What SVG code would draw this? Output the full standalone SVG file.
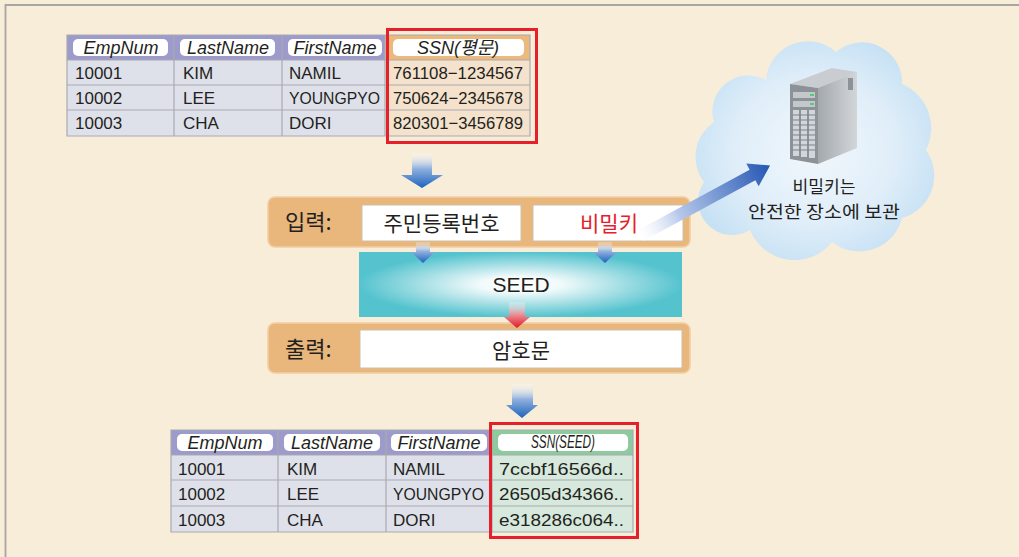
<svg xmlns="http://www.w3.org/2000/svg" width="1019" height="557" viewBox="0 0 1019 557">
  <defs>
    <style>
      .t { font-family: "Liberation Sans", Arial, sans-serif; font-size: 17px; fill: #231f20; }
      .h { font-family: "Liberation Sans", Arial, sans-serif; font-size: 18px; font-style: italic; fill: #231f20; text-anchor: middle; }
      .k { font-family: "Noto Sans CJK KR", "Noto Sans", sans-serif; fill: #231f20; }
      .grid { stroke: #a9a9b0; stroke-width: 1.2; fill: none; }
      .pill { fill: #ffffff; }
      .hdr { fill: #9d9bcb; }
      .row { fill: #dfe1ea; }
      .bar { fill: #e9b67c; stroke: #f2cea3; stroke-width: 1.5; }
      .box { fill: #ffffff; stroke: #cdbfa8; stroke-width: 1; }
      .hl { fill: none; stroke: #e5202a; stroke-width: 3; }
    </style>
    <linearGradient id="blueDown" x1="0" y1="0" x2="0" y2="1">
      <stop offset="0" stop-color="#ffffff" stop-opacity="0.2"/>
      <stop offset="0.45" stop-color="#8fb0de"/>
      <stop offset="1" stop-color="#1c63bd"/>
    </linearGradient>
    <linearGradient id="redDown" x1="0" y1="0" x2="0" y2="1">
      <stop offset="0" stop-color="#ffffff" stop-opacity="0.2"/>
      <stop offset="0.5" stop-color="#ec8a90"/>
      <stop offset="1" stop-color="#e0182a"/>
    </linearGradient>
    <linearGradient id="blueDiag" x1="0" y1="0" x2="1" y2="0">
      <stop offset="0" stop-color="#ffffff" stop-opacity="0.3"/>
      <stop offset="0.3" stop-color="#b6c8ea"/>
      <stop offset="1" stop-color="#2456b3"/>
    </linearGradient>
    <radialGradient id="seedGlow" cx="0.5" cy="0.5" r="0.5">
      <stop offset="0" stop-color="#ffffff"/>
      <stop offset="0.25" stop-color="#f2fafb"/>
      <stop offset="1" stop-color="#55c3ce"/>
    </radialGradient>
    <radialGradient id="cloudFill" cx="0.5" cy="0.5" r="0.55">
      <stop offset="0" stop-color="#f1f7fc"/>
      <stop offset="0.6" stop-color="#e0eef9"/>
      <stop offset="1" stop-color="#c6e1f4"/>
    </radialGradient>
    <linearGradient id="towerSide" x1="0" y1="0" x2="1" y2="0">
      <stop offset="0" stop-color="#a4a9ae"/>
      <stop offset="1" stop-color="#d3d6d9"/>
    </linearGradient>
  </defs>

  <!-- page background and frame -->
  <rect x="0" y="0" width="1019" height="557" fill="#f7edd8"/>
  <path d="M5.5 557 V5 H1019" fill="none" stroke="#a8a6a0" stroke-width="1.8"/>

  <!-- key storage cloud with server -->
  <g id="key-store">
    <path d="M704 182 A42 42 0 0 1 714 122 A36 36 0 0 1 766 80 A42 42 0 0 1 836 52 A40 40 0 0 1 902 84 A48 48 0 0 1 926 150 A44 44 0 0 1 902 218 A44 44 0 0 1 832 242 A48 48 0 0 1 750 230 A34 34 0 0 1 704 182 Z" fill="url(#cloudFill)"/>
    <g id="server">
      <polygon points="790,84 832,68 857,72 818,88" fill="#c9ccd0"/>
      <polygon points="818,88 857,72 857,148 818,164" fill="url(#towerSide)"/>
      <polygon points="790,84 818,88 818,164 790,159" fill="#8c9298"/>
      <rect x="793" y="92" width="22" height="6" fill="#c4c8cd"/>
      <rect x="793" y="101" width="22" height="6" fill="#c4c8cd"/>
      <rect x="810" y="94" width="4" height="2" fill="#4cd36a"/>
      <rect x="810" y="103" width="4" height="2" fill="#4cd36a"/>
      <g fill="#d2d6da">
        <rect x="793" y="110" width="6" height="46"/>
        <rect x="801" y="110" width="6" height="47"/>
        <rect x="809" y="110" width="6" height="48"/>
      </g>
      <g stroke="#7d838a" stroke-width="1">
        <path d="M793 115 H815 M793 120 H815 M793 125 H815 M793 130 H815 M793 135 H815 M793 140 H815 M793 145 H815 M793 150 H815"/>
      </g>
      <rect x="848" y="78" width="5" height="12" fill="#8d9298"/>
    </g>
    <text class="k" x="824" y="193" font-size="17" text-anchor="middle" textLength="63" lengthAdjust="spacingAndGlyphs">비밀키는</text>
    <text class="k" x="824" y="218" font-size="17" text-anchor="middle" textLength="152" lengthAdjust="spacingAndGlyphs">안전한 장소에 보관</text>
  </g>

  <!-- plaintext table -->
  <g id="plain-table">
    <rect class="hdr" x="67" y="35" width="318" height="25"/>
    <rect x="385" y="35" width="145" height="25" fill="#ebb97b"/>
    <rect class="row" x="67" y="60" width="318" height="76"/>
    <rect x="385" y="60" width="145" height="76" fill="#f4e2cc"/>
    <rect class="pill" x="73" y="39" width="95" height="17" rx="5"/>
    <rect class="pill" x="180" y="39" width="95" height="17" rx="5"/>
    <rect class="pill" x="288" y="39" width="94" height="17" rx="5"/>
    <rect class="pill" x="393" y="39" width="131" height="17" rx="5"/>
    <path class="grid" d="M67 35 H530 V136 H67 Z M67 60 H530 M67 85 H530 M67 110 H530 M174 35 V136 M282 35 V136 M385 35 V136"/>
    <text class="h" x="121" y="54">EmpNum</text>
    <text class="h" x="228" y="54">LastName</text>
    <text class="h" x="335" y="54">FirstName</text>
    <text class="h" x="458" y="54">SSN(<tspan font-family="Noto Sans CJK KR, sans-serif">평문</tspan>)</text>
    <text class="t" x="75" y="79">10001</text>
    <text class="t" x="183" y="79">KIM</text>
    <text class="t" x="289" y="79">NAMIL</text>
    <text class="t" x="393" y="79" textLength="130" lengthAdjust="spacingAndGlyphs">761108−1234567</text>
    <text class="t" x="75" y="104">10002</text>
    <text class="t" x="183" y="104">LEE</text>
    <text class="t" x="289" y="104" textLength="91" lengthAdjust="spacingAndGlyphs">YOUNGPYO</text>
    <text class="t" x="393" y="104" textLength="130" lengthAdjust="spacingAndGlyphs">750624−2345678</text>
    <text class="t" x="75" y="129">10003</text>
    <text class="t" x="183" y="129">CHA</text>
    <text class="t" x="289" y="129">DORI</text>
    <text class="t" x="393" y="129" textLength="130" lengthAdjust="spacingAndGlyphs">820301−3456789</text>
    <rect class="hl" x="387.5" y="29.5" width="149" height="113"/>
  </g>

  <!-- input row -->
  <g id="input">
    <rect class="bar" x="268" y="197" width="422" height="50" rx="7"/>
    <text class="k" x="285" y="230" font-size="22">입력:</text>
    <rect class="box" x="362" y="205" width="159" height="36"/>
    <text class="k" x="441.5" y="231" font-size="21" text-anchor="middle">주민등록번호</text>
    <rect class="box" x="533" y="205" width="150" height="36"/>
    <text class="k" x="609" y="231" font-size="21" text-anchor="middle" style="fill:#e5202a">비밀키</text>
  </g>

  <!-- cipher block -->
  <g id="seed">
    <rect x="359" y="252" width="323" height="65" fill="url(#seedGlow)"/>
    <text x="521" y="292" font-family="Liberation Sans, Arial, sans-serif" font-size="21" fill="#231f20" text-anchor="middle">SEED</text>
  </g>

  <!-- output row -->
  <g id="output">
    <rect class="bar" x="268" y="323" width="422" height="50" rx="7"/>
    <text class="k" x="285" y="357" font-size="22">출력:</text>
    <rect class="box" x="360" y="330" width="322" height="38"/>
    <text class="k" x="521" y="358" font-size="21" text-anchor="middle">암호문</text>
  </g>

  <!-- encrypted table -->
  <g id="cipher-table">
    <rect class="hdr" x="171" y="430" width="321" height="25"/>
    <rect x="492" y="430" width="141" height="25" fill="#8dcb9e"/>
    <rect class="row" x="171" y="455" width="321" height="77"/>
    <rect x="492" y="455" width="141" height="77" fill="#d6e9dc"/>
    <rect class="pill" x="177" y="434" width="96" height="17" rx="5"/>
    <rect class="pill" x="284" y="434" width="96" height="17" rx="5"/>
    <rect class="pill" x="391" y="434" width="96" height="17" rx="5"/>
    <rect class="pill" x="498" y="434" width="130" height="17" rx="5"/>
    <path class="grid" d="M171 430 H633 V532 H171 Z M171 455 H633 M171 480 H633 M171 506 H633 M278 430 V532 M386 430 V532 M492 430 V532"/>
    <text class="h" x="225" y="449">EmpNum</text>
    <text class="h" x="332" y="449">LastName</text>
    <text class="h" x="439" y="449">FirstName</text>
    <text class="h" x="563" y="448" font-size="15" textLength="64" lengthAdjust="spacingAndGlyphs">SSN(SEED)</text>
    <text class="t" x="178" y="475">10001</text>
    <text class="t" x="287" y="475">KIM</text>
    <text class="t" x="393" y="475">NAMIL</text>
    <text class="t" x="499" y="475" textLength="125" lengthAdjust="spacingAndGlyphs">7ccbf16566d..</text>
    <text class="t" x="178" y="500">10002</text>
    <text class="t" x="287" y="500">LEE</text>
    <text class="t" x="393" y="500" textLength="91" lengthAdjust="spacingAndGlyphs">YOUNGPYO</text>
    <text class="t" x="499" y="500" textLength="125" lengthAdjust="spacingAndGlyphs">26505d34366..</text>
    <text class="t" x="178" y="526">10003</text>
    <text class="t" x="287" y="526">CHA</text>
    <text class="t" x="393" y="526">DORI</text>
    <text class="t" x="499" y="526" textLength="125" lengthAdjust="spacingAndGlyphs">e318286c064..</text>
    <rect class="hl" x="490.5" y="423.5" width="147" height="114"/>
  </g>

  <!-- flow arrows -->
  <g id="connectors">
    <polygon points="412,153 432,153 432,175 443,175 422,188 401,175 412,175" fill="url(#blueDown)"/>
    <polygon points="416,242 430,242 430,252 435,252 423,263 411,252 416,252" fill="url(#blueDown)"/>
    <polygon points="598,242 612,242 612,252 617,252 605,263 593,252 598,252" fill="url(#blueDown)"/>
    <polygon points="509,302 525,302 525,317 530,317 517,328 504,317 509,317" fill="url(#redDown)"/>
    <polygon points="512,384 533,384 533,405 538,405 522,418 506,405 512,405" fill="url(#blueDown)"/>
    <g transform="translate(640,236) rotate(-28.5)">
      <polygon points="0,-6 128,-6 128,-13 148,0 128,13 128,6 0,6" fill="url(#blueDiag)"/>
    </g>
  </g>
</svg>
